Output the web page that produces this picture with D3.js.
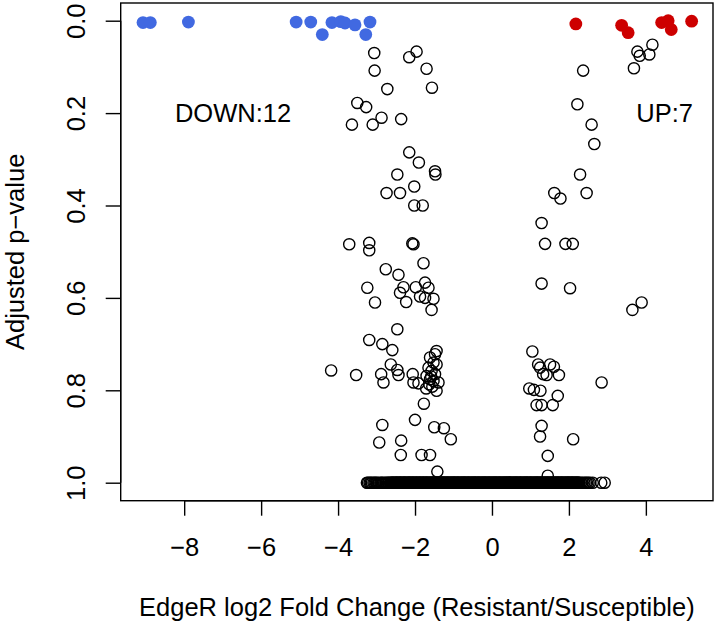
<!DOCTYPE html>
<html>
<head>
<meta charset="utf-8">
<script src="https://cdn.jsdelivr.net/npm/d3@7/dist/d3.min.js"></script>
<style>
  html, body { margin: 0; padding: 0; background: #fff; }
  svg { display: block; }
  text { font-family: "Liberation Sans", Arial, Helvetica, sans-serif; fill: #000; }
</style>
</head>
<body>
<svg id="chart" width="717" height="628"></svg>
<script>
// ---------------- DATA ----------------
// Significantly down-regulated genes (blue)
const downX = [-9.07, -8.88, -7.89, -5.09, -4.71, -4.41, -4.16, -3.93, -3.82, -3.56, -3.17, -3.28];
const downY = [0.004, 0.004, 0.003, 0.003, 0.003, 0.030, 0.004, 0.002, 0.005, 0.009, 0.003, 0.030];

// Significantly up-regulated genes (red)
const upX = [2.18, 3.37, 3.54, 4.41, 4.58, 4.66, 5.19];
const upY = [0.007, 0.010, 0.026, 0.004, 0.000, 0.019, 0.001];

// Non-significant genes (open circles), p < 1
const nsX = [
  -3.06, -3.05, -2.72, -2.15, -1.96, -1.70, -1.56, -3.50, -3.27, -3.64, -3.10, -2.87, -2.36,
  2.37, 2.22, 3.78, 3.84, 4.09, 4.17, 3.69,
  -2.15, -1.90, -1.48, -1.47, -2.46, -2.02, -2.74, -2.39, -2.02, -1.80,
  -3.71, -3.19, -3.19, -2.07, -2.04, -1.78, -2.76, -2.43, -3.24, -2.30, -1.98, -1.74, -1.65,
  -2.39, -1.87, -1.74, -1.52, -3.04, -2.23, -1.57,
  2.59, 2.66, 2.29, 1.62, 1.78, 2.46, 1.29, 1.38, 1.91, 2.10, 1.29, 2.03, 3.89, 3.65,
  -2.46, -3.19, -2.85, -2.59, -1.44, -1.48, -4.18, -3.53, -2.88, -2.82, -2.63, -2.46, -2.43,
  -2.06, -2.04, -1.91,
  -1.61, -1.52, -1.44, -1.65, -1.57, -1.48, -1.70, -1.61, -1.52, -1.39, -1.71, -1.44,
  -1.58, -1.63, -1.55,
  -1.77, -2.85, -2.00, -2.93, -2.36, -1.50, -1.25, -1.07, -2.37, -1.83, -1.61, -1.42,
  1.05, 1.20, 1.25, 1.51, 1.61, 1.33, 1.42, 1.74, 0.97, 1.09, 1.26, 1.71, 1.16, 1.29, 1.58,
  2.85, 1.29, 1.25, 2.11, 1.45, 1.45
];
const nsY = [
  0.070, 0.108, 0.148, 0.079, 0.067, 0.104, 0.145, 0.178, 0.187, 0.225, 0.225, 0.210, 0.213,
  0.108, 0.181, 0.067, 0.076, 0.073, 0.052, 0.103,
  0.285, 0.307, 0.326, 0.333, 0.333, 0.359, 0.373, 0.373, 0.400, 0.400,
  0.484, 0.481, 0.497, 0.482, 0.484, 0.525, 0.538, 0.550, 0.578, 0.577, 0.577, 0.567, 0.578,
  0.589, 0.597, 0.600, 0.602, 0.610, 0.609, 0.626,
  0.225, 0.267, 0.333, 0.373, 0.385, 0.373, 0.438, 0.483, 0.483, 0.483, 0.569, 0.579, 0.610, 0.626,
  0.668, 0.691, 0.700, 0.713, 0.715, 0.722, 0.757, 0.767, 0.765, 0.783, 0.744, 0.756, 0.767,
  0.765, 0.783, 0.785,
  0.729, 0.740, 0.744, 0.751, 0.758, 0.765, 0.769, 0.776, 0.780, 0.783, 0.796, 0.801,
  0.770, 0.787, 0.792,
  0.829, 0.875, 0.864, 0.913, 0.909, 0.880, 0.882, 0.906, 0.940, 0.940, 0.940, 0.976,
  0.716, 0.744, 0.751, 0.744, 0.749, 0.765, 0.767, 0.767, 0.796, 0.799, 0.801, 0.812, 0.832, 0.832, 0.832,
  0.783, 0.877, 0.900, 0.906, 0.942, 0.985
];

// Genes with adjusted p-value = 1 (the dense band at the bottom)
const oneX = [
  -3.25, -3.18, -3.12, -3.05, -2.99, -2.90, -2.84, -2.76, -2.70, -2.65,
  -2.61, -2.58, -2.55, -2.51, -2.48, -2.46, -2.42, -2.39, -2.37, -2.33, -2.30, -2.27, -2.25, -2.21,
  -2.18, -2.15, -2.13, -2.09, -2.06, -2.04, -2.00, -1.97, -1.95, -1.91, -1.88, -1.86, -1.82, -1.79,
  -1.77, -1.73, -1.70, -1.68, -1.64, -1.61, -1.58, -1.55, -1.52, -1.50, -1.46, -1.43, -1.41, -1.37,
  -1.34, -1.31, -1.28, -1.25, -1.23, -1.19, -1.16, -1.14, -1.10, -1.07, -1.04, -1.01, -0.98, -0.96,
  -0.92, -0.89, -0.87, -0.83, -0.80, -0.77, -0.74, -0.71, -0.69, -0.65, -0.62, -0.60, -0.56, -0.53,
  -0.50, -0.47, -0.44, -0.42, -0.38, -0.35, -0.33, -0.29, -0.26, -0.23, -0.20, -0.17, -0.15, -0.11,
  -0.08, -0.06, -0.02, 0.01, 0.04, 0.07, 0.10, 0.12, 0.16, 0.19, 0.21, 0.25, 0.28, 0.31, 0.34,
  0.37, 0.39, 0.43, 0.46, 0.48, 0.52, 0.55, 0.58, 0.61, 0.64, 0.66, 0.70, 0.73, 0.75, 0.79, 0.82,
  0.85, 0.88, 0.91, 0.93, 0.97, 1.00, 1.02, 1.06, 1.09, 1.12, 1.15, 1.18, 1.20, 1.24, 1.27, 1.29,
  1.33, 1.36, 1.39, 1.42, 1.45, 1.47, 1.51, 1.54, 1.56, 1.60, 1.63, 1.66, 1.69, 1.72, 1.74, 1.78,
  1.81, 1.83, 1.87, 1.90, 1.93, 1.96, 1.99, 2.01, 2.05, 2.08, 2.10, 2.14, 2.17, 2.20, 2.23, 2.26,
  2.32, 2.40, 2.47, 2.55, 2.62, 2.84, 2.93,
  -3.22, -3.15, -3.08, -3.02, -2.95, -2.87, -2.80, -2.73, -2.68, -2.63,
  -2.595, -2.565, -2.53, -2.495, -2.47, -2.44, -2.405, -2.38, -2.35, -2.315, -2.285, -2.26, -2.23,
  -2.195, -2.165, -2.14, -2.11, -2.075, -2.05, -2.02, -1.985, -1.96, -1.93, -1.895, -1.87, -1.84,
  -1.805, -1.78, -1.75, -1.715, -1.69, -1.66, -1.625, -1.595, -1.565, -1.535, -1.51, -1.48, -1.445,
  -1.42, -1.39, -1.355, -1.325, -1.295, -1.265, -1.24, -1.21, -1.175, -1.15, -1.12, -1.085, -1.055,
  -1.025, -0.995, -0.97, -0.94, -0.905, -0.88, -0.85, -0.815, -0.785, -0.755, -0.725, -0.70, -0.67,
  -0.635, -0.61, -0.58, -0.545, -0.515, -0.485, -0.455, -0.43, -0.40, -0.365, -0.34, -0.31, -0.275,
  -0.245, -0.215, -0.185, -0.16, -0.13, -0.095, -0.07, -0.04, -0.005, 0.025, 0.055, 0.085, 0.11,
  0.14, 0.175, 0.20, 0.23, 0.265, 0.295, 0.325, 0.355, 0.38, 0.41, 0.445, 0.47, 0.50, 0.535, 0.565,
  0.595, 0.625, 0.65, 0.68, 0.715, 0.74, 0.77, 0.805, 0.835, 0.865, 0.895, 0.92, 0.95, 0.985, 1.01,
  1.04, 1.075, 1.105, 1.135, 1.165, 1.19, 1.22, 1.255, 1.28, 1.31, 1.345, 1.375, 1.405, 1.435, 1.46,
  1.49, 1.525, 1.55, 1.58, 1.615, 1.645, 1.675, 1.705, 1.73, 1.76, 1.795, 1.82, 1.85, 1.885, 1.915,
  1.945, 1.975, 2.00, 2.03, 2.065, 2.09, 2.12, 2.155, 2.185, 2.215, 2.245, 2.28, 2.36, 2.44, 2.51
];
const oneY = oneX.map(() => 1.0);

const xTicks = [-8, -6, -4, -2, 0, 2, 4];
const yTicks = [0.0, 0.2, 0.4, 0.6, 0.8, 1.0];
const labels = ["DOWN:12", "UP:7"];
const xTitle = "EdgeR log2 Fold Change (Resistant/Susceptible)";
const yTitle = "Adjusted p\u2212value";

// ---------------- LAYOUT ----------------
const svg = d3.select("#chart");
const plot = { left: 120.7, right: 713, top: 3, bottom: 500.7 };
const FONT = 25.5;

const x = d3.scaleLinear().domain([-9.650, 5.745]).range([plot.left, plot.right]);
const y = d3.scaleLinear().domain([0, 1]).range([20.7, 482.7]);

// points
const g = svg.append("g");
const rOpen = 5.6, rFill = 6.4;

g.selectAll("circle.one").data(d3.zip(oneX, oneY)).join("circle")
  .attr("class", "one")
  .attr("cx", d => x(d[0])).attr("cy", d => y(d[1])).attr("r", rOpen)
  .attr("fill", "none").attr("stroke", "#000").attr("stroke-width", 1.4);

g.selectAll("circle.ns").data(d3.zip(nsX, nsY)).join("circle")
  .attr("class", "ns")
  .attr("cx", d => x(d[0])).attr("cy", d => y(d[1])).attr("r", rOpen)
  .attr("fill", "none").attr("stroke", "#000").attr("stroke-width", 1.4);

g.selectAll("circle.down").data(d3.zip(downX, downY)).join("circle")
  .attr("class", "down")
  .attr("cx", d => x(d[0])).attr("cy", d => y(d[1])).attr("r", rFill)
  .attr("fill", "#4169E1");

g.selectAll("circle.up").data(d3.zip(upX, upY)).join("circle")
  .attr("class", "up")
  .attr("cx", d => x(d[0])).attr("cy", d => y(d[1])).attr("r", rFill)
  .attr("fill", "#CD0000");

// box
svg.append("rect")
  .attr("x", plot.left).attr("y", plot.top)
  .attr("width", plot.right - plot.left).attr("height", plot.bottom - plot.top)
  .attr("fill", "none").attr("stroke", "#000").attr("stroke-width", 1.4);

// x axis
const xAxis = d3.axisBottom(x).tickValues(xTicks).tickSize(15).tickPadding(0)
  .tickFormat(d3.format("d"));
const gx = svg.append("g").attr("transform", `translate(0,${plot.bottom})`).call(xAxis);
gx.select(".domain").attr("d", `M${x(xTicks[0])},0H${x(xTicks[xTicks.length-1])}`)
  .attr("stroke-width", 1.4);
gx.selectAll(".tick line").attr("stroke-width", 1.4);
gx.selectAll(".tick text")
  .attr("y", 556 - plot.bottom).attr("dy", 0)
  .style("font-size", FONT + "px").style("font-family", '"Liberation Sans", Arial, sans-serif');

// y axis
const yAxis = d3.axisLeft(y).tickValues(yTicks).tickSize(15).tickFormat(d3.format(".1f"));
const gy = svg.append("g").attr("transform", `translate(${plot.left},0)`).call(yAxis);
gy.select(".domain").attr("d", `M0,${y(yTicks[0])}V${y(yTicks[yTicks.length-1])}`)
  .attr("stroke-width", 1.4);
gy.selectAll(".tick line").attr("stroke-width", 1.4);
gy.selectAll(".tick text")
  .attr("x", null).attr("dy", null)
  .attr("transform", `translate(${85 - plot.left},0) rotate(-90)`)
  .attr("text-anchor", "middle")
  .style("font-size", FONT + "px").style("font-family", '"Liberation Sans", Arial, sans-serif');

// titles
svg.append("text")
  .attr("x", (plot.left + plot.right) / 2).attr("y", 616)
  .attr("text-anchor", "middle").style("font-size", FONT + "px")
  .text(xTitle);

svg.append("text")
  .attr("transform", `translate(24,${(plot.top + plot.bottom) / 2}) rotate(-90)`)
  .attr("text-anchor", "middle").style("font-size", FONT + "px")
  .text(yTitle);

// annotations
svg.append("text").attr("x", x(-6.73)).attr("y", 121.7)
  .attr("text-anchor", "middle").style("font-size", FONT + "px").text(labels[0]);
svg.append("text").attr("x", x(4.49)).attr("y", 121.7)
  .attr("text-anchor", "middle").style("font-size", FONT + "px").text(labels[1]);
</script>
</body>
</html>
